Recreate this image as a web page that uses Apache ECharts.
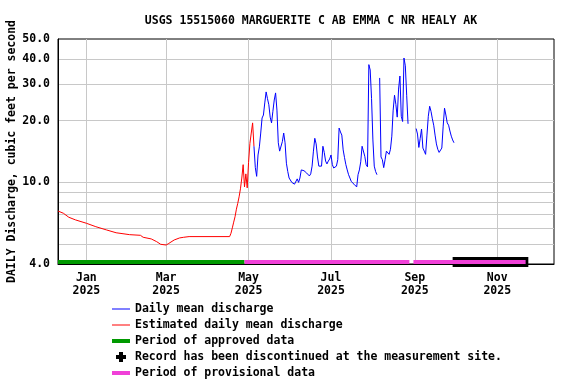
<!DOCTYPE html>
<html><head><meta charset="utf-8">
<script src="https://cdn.jsdelivr.net/npm/echarts@6/dist/echarts.min.js"></script>
<style>html,body{margin:0;padding:0;background:#fff}#c{width:576px;height:384px}</style>
</head><body><div id="c"></div>
<script>
const chartTitle = 'USGS 15515060 MARGUERITE C AB EMMA C NR HEALY AK';
const yAxisName = 'DAILY Discharge, cubic feet per second';
const xMin = '2024-12-11';
const xMax = '2025-12-13';
const monthTicks = ['2025-01-01','2025-03-01','2025-05-01','2025-07-01','2025-09-01','2025-11-01'];
const monthLabels = ['Jan\n2025','Mar\n2025','May\n2025','Jul\n2025','Sep\n2025','Nov\n2025'];
const yGridValues = [5,6,7,8,9,10,20,30,40];
const yLabelValues = [4,10,20,30,40,50];
const yMin = 4, yMax = 50;

// Estimated daily mean discharge (red)
const estDates = ['2024-12-11','2024-12-15','2024-12-19','2024-12-24','2025-01-01','2025-01-08','2025-01-16','2025-01-23',
  '2025-02-02','2025-02-10','2025-02-12','2025-02-18','2025-02-22','2025-02-25','2025-03-01','2025-03-03','2025-03-07',
  '2025-03-11','2025-03-14','2025-03-18','2025-04-17','2025-04-18','2025-04-19','2025-04-20','2025-04-21','2025-04-22',
  '2025-04-23','2025-04-24','2025-04-25','2025-04-26','2025-04-27','2025-04-28','2025-04-29','2025-04-30','2025-05-01',
  '2025-05-02','2025-05-03','2025-05-04','2025-05-05'];
const estValues = [7.25,7.07,6.76,6.56,6.32,6.08,5.86,5.68,
  5.56,5.52,5.40,5.30,5.14,4.99,4.95,5.04,5.24,
  5.36,5.40,5.44,5.44,5.65,6.0,6.4,6.8,7.4,
  7.9,8.5,9.3,10.5,12.2,9.5,11.0,9.4,12.5,
  15.5,17.4,19.5,15.0];

// Daily mean discharge (blue), one value per day from dailyStart; null = missing
const dailyStart = '2025-05-05';
const dailyValues = [
  15.0,11.8,10.7,13.6,14.9,17.4,20.6,21.3,24.4,27.6,      // May 5-14
  25.6,23.9,20.8,19.5,22.2,25.2,27.3,22.5,15.6,14.2,      // May 15-24
  14.0,15.8,17.4,15.6,12.4,11.3,10.5,10.3,10.0,9.9,       // May 25-Jun 3
  9.8,10.0,10.4,10.0,10.5,11.5,11.5,11.4,11.3,11.1,       // Jun 4-13
  10.9,10.75,11.0,12.0,14.2,16.4,15.4,13.3,12.0,12.2,     // Jun 14-23
  12.0,15.0,14.0,12.7,12.3,12.7,13.0,13.6,12.2,11.75,     // Jun 24-Jul 3
  11.5,12.0,12.9,18.4,17.6,17.0,14.4,13.2,12.2,11.5,      // Jul 4-13
  10.9,10.5,10.1,9.9,9.8,9.8,9.5,10.9,11.5,12.6,          // Jul 14-23
  15.0,14.7,13.4,12.2,11.9,37.5,35.3,25.6,16.1,12.0,      // Jul 24-Aug 2
  11.3,10.9,null,32.3,13.3,12.9,11.8,12.9,14.2,14.5,      // Aug 3-12
  13.7,14.5,16.8,22.5,26.6,24.0,20.8,28.5,33.0,21.0,      // Aug 13-22
  19.8,40.4,37.0,26.6,19.3,null,null,null,null,null,      // Aug 23-Sep 1
  18.3,17.2,14.8,16.4,18.2,14.7,14.2,13.7,17.0,21.0,      // Sep 2-11
  23.5,22.2,20.4,19.0,17.0,15.4,14.5,14.0,14.1,14.7,      // Sep 12-21
  18.8,23.0,21.3,19.5,19.0,17.8,16.8,16.1,15.6            // Sep 22-30
];

const approvedPeriods = [['2024-12-11','2025-04-28']];
const provisionalPeriods = [['2025-04-28','2025-08-28'],['2025-08-31','2025-11-22']];
const discontinuedPeriods = [['2025-09-29','2025-11-24']];
const periodLevel = 4.09;

const names = ['Daily mean discharge','Estimated daily mean discharge','Period of approved data',
  'Record has been discontinued at the measurement site.','Period of provisional data'];
const colors = ['#0000ff','#ff0000','#009900','#000000','#f040d8'];

function ts(s){const p=s.split('-').map(Number);return new Date(p[0],p[1]-1,p[2]).getTime();}
const monthTs = monthTicks.map(ts);
const sd = new Date(ts(dailyStart));
const dailyData = dailyValues.map((v,i)=>[new Date(sd.getFullYear(),sd.getMonth(),sd.getDate()+i).getTime(), v]);
const estData = estDates.map((d,i)=>[ts(d), estValues[i]]);
function periodData(periods){
  const out=[];
  periods.forEach((p,i)=>{ if(i>0) out.push([ts(p[0]), null]); out.push([ts(p[0]),periodLevel]); out.push([ts(p[1]),periodLevel]); });
  return out;
}
const FONT = 'DejaVu Sans Mono';
const txt = {fontFamily: FONT, fontWeight: 'bold', fontSize: 11.5, color: '#000'};
const chart = echarts.init(document.getElementById('c'), null, {renderer:'canvas'});
const line1 = 'path://M0,0H18V1H0Z', bar4 = 'path://M0,0H18V4H0Z',
  cross = 'path://M3,0H7V3H10V7H7V10H3V7H0V3H3Z';
chart.setOption({
  animation: false,
  backgroundColor: '#fff',
  title: {text: chartTitle, left: 306, textAlign: 'center', top: 10, textStyle: Object.assign({}, txt)},
  grid: {left: 58, right: 22, top: 39, bottom: 120, show: true, borderColor: '#000', borderWidth: 1, outerBoundsMode: 'none'},
  legend: {
    orient: 'vertical', left: 112, top: 303, height: 81, padding: 0, itemWidth: 18, itemHeight: 10, itemGap: 4,
    symbolKeepAspect: true, selectedMode: false,
    itemStyle: {borderWidth: 0},
    textStyle: Object.assign({lineHeight: 12}, txt),
    data: [
      {name: names[0], icon: line1}, {name: names[1], icon: line1}, {name: names[2], icon: bar4},
      {name: names[3], icon: cross}, {name: names[4], icon: bar4}
    ]
  },
  xAxis: {
    type: 'value', min: ts(xMin), max: ts(xMax), scale: true,
    axisLine: {show: true, onZero: false, lineStyle: {color: '#000', width: 1}},
    axisTick: {show: false, customValues: monthTs},
    splitLine: {show: true, lineStyle: {color: '#c8c8c8', width: 1}},
    axisLabel: {
      customValues: monthTs, margin: 8, lineHeight: 13, hideOverlap: false,
      fontFamily: FONT, fontWeight: 'bold', fontSize: 11.5, color: '#000',
      formatter: function(v){ let best=0; monthTs.forEach((t,i)=>{ if(Math.abs(t-v)<Math.abs(monthTs[best]-v)) best=i; }); return monthLabels[best]; }
    }
  },
  yAxis: {
    type: 'log', logBase: 10, min: yMin, max: yMax,
    name: yAxisName, nameLocation: 'middle', nameGap: 40, nameMoveOverlap: false,
    nameTextStyle: Object.assign({}, txt),
    axisLine: {show: true, lineStyle: {color: '#000'}},
    axisTick: {show: false, customValues: yGridValues},
    splitLine: {show: true, lineStyle: {color: '#c8c8c8', width: 1}},
    axisLabel: {customValues: yLabelValues, margin: 8, padding: [3,0,0,0], fontFamily: FONT, fontWeight: 'bold', fontSize: 11.5, color: '#000',
      hideOverlap: false, formatter: v => Number(v).toFixed(1)}
  },
  series: [
    {name: names[2], type: 'line', data: periodData(approvedPeriods), symbol: 'none', clip: false, z: 3,
     lineStyle: {color: colors[2], width: 4, cap: 'butt'}, itemStyle: {color: colors[2]}},
    {name: names[3], type: 'line', data: periodData(discontinuedPeriods), symbol: 'none', clip: false, z: 3,
     lineStyle: {color: colors[3], width: 10, cap: 'butt'}, itemStyle: {color: colors[3]}},
    {name: names[4], type: 'line', data: periodData(provisionalPeriods), symbol: 'none', clip: false, z: 3,
     lineStyle: {color: colors[4], width: 4, cap: 'butt'}, itemStyle: {color: colors[4]}},
    {name: names[1], type: 'line', data: estData, symbol: 'none', z: 4,
     lineStyle: {color: colors[1], width: 1}, itemStyle: {color: colors[1]}},
    {name: names[0], type: 'line', data: dailyData, symbol: 'none', z: 5, connectNulls: false,
     lineStyle: {color: colors[0], width: 1}, itemStyle: {color: colors[0]}}
  ]
});
</script></body></html>
